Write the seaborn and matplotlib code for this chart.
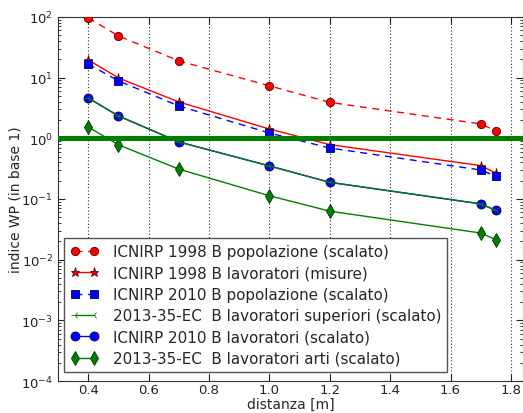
import numpy as np
import pandas as pd
import matplotlib
matplotlib.use("Agg")
import matplotlib.pyplot as plt
import seaborn as sns

sns.set_style("ticks")
plt.rcParams['font.family'] = ['DejaVu Sans']

distanza = [0.4, 0.5, 0.7, 1.0, 1.2, 1.7, 1.75]
icnirp1998_pop = [96, 48.5, 18.8, 7.3, 3.9, 1.72, 1.33]
icnirp1998_lav = [19.5, 9.85, 3.96, 1.42, 0.785, 0.354, 0.268]
icnirp2010_pop = [16.7, 8.8, 3.4, 1.22, 0.69, 0.30, 0.237]
ec2013_sup = [4.6, 2.33, 0.87, 0.35, 0.188, 0.083, 0.065]
icnirp2010_lav = [4.6, 2.33, 0.87, 0.35, 0.188, 0.083, 0.065]
ec2013_arti = [1.53, 0.78, 0.31, 0.113, 0.063, 0.0275, 0.0214]

labels = [
    "ICNIRP 1998 B popolazione (scalato)",
    "ICNIRP 1998 B lavoratori (misure)",
    "ICNIRP 2010 B popolazione (scalato)",
    "2013-35-EC  B lavoratori superiori (scalato)",
    "ICNIRP 2010 B lavoratori (scalato)",
    "2013-35-EC  B lavoratori arti (scalato)",
]
series = [icnirp1998_pop, icnirp1998_lav, icnirp2010_pop, ec2013_sup, icnirp2010_lav, ec2013_arti]
styles = [
    dict(color='r', dashes=(5, 4), marker='o', markersize=6, mec='#550000'),
    dict(color='r', dashes=None, marker='*', markersize=6.5, mec='#550000'),
    dict(color='b', dashes=(5, 4), marker='s', markersize=5.5, mec='#000055'),
    dict(color='g', dashes=None, marker='3', markersize=6, mec='g'),
    dict(color='b', dashes=None, marker='o', markersize=6.5, mec='#000055'),
    dict(color='g', dashes=None, marker='d', markersize=7, mec='#003300'),
]
# plotting order: blue circles below the green "superiori" line
order = [0, 1, 2, 4, 3, 5]

fig = plt.figure(figsize=(5.23, 4.14), dpi=100)
ax = fig.add_axes([0.111, 0.077, 0.889, 0.880])

for k, i in enumerate(order):
    df = pd.DataFrame({"x": distanza, "y": series[i]})
    st = styles[i]
    kw = {}
    if st['dashes'] is not None:
        kw['dashes'] = st['dashes']
    sns.lineplot(data=df, x="x", y="y", ax=ax, estimator=None, sort=False,
                 color=st['color'], marker=st['marker'],
                 markersize=st['markersize'], markeredgecolor=st['mec'],
                 markeredgewidth=0.6, linewidth=1.0,
                 label=labels[i], zorder=3 + k * 0.01, **kw)

ax.axhline(1.0, color='g', linewidth=3.6, zorder=4)

ax.set_yscale('log')
ax.set_ylim(1e-4, 1e2)
ax.set_xlim(0.3, 1.84)
ax.set_xticks([0.4, 0.6, 0.8, 1.0, 1.2, 1.4, 1.6, 1.8])
ax.xaxis.grid(True, linestyle=(0, (1, 2)), color='#333333', linewidth=0.8)
ax.set_axisbelow(True)
ax.tick_params(which='both', direction='in', top=True, right=True, labelsize=9.5,
               colors='#222222')
ax.tick_params(axis='x', pad=1.0)
ax.tick_params(which='major', length=5)
ax.tick_params(which='minor', length=2.5)
for s in ax.spines.values():
    s.set_color('#333333')
ax.xaxis.offsetText.set_visible(False)
ax.yaxis.offsetText.set_visible(False)
ax.set_xlabel("distanza [m]", fontsize=10)
ax.set_ylabel("indice WP (in base 1)", fontsize=10)
ax.xaxis.set_label_coords(0.5, -0.043)
ax.yaxis.set_label_coords(-0.076, 0.5)

handles, labs = ax.get_legend_handles_labels()
hmap = dict(zip(labs, handles))
leg = ax.legend([hmap[l] for l in labels], labels, loc='lower left',
                bbox_to_anchor=(0.013, 0.025), borderaxespad=0, fontsize=10.9,
                fancybox=False, framealpha=1, edgecolor='#555555', numpoints=2,
                handlelength=1.9, labelspacing=0.42, borderpad=0.4, handletextpad=0.9)
leg.get_frame().set_linewidth(1.0)

fig.savefig("out.png", dpi=100)
